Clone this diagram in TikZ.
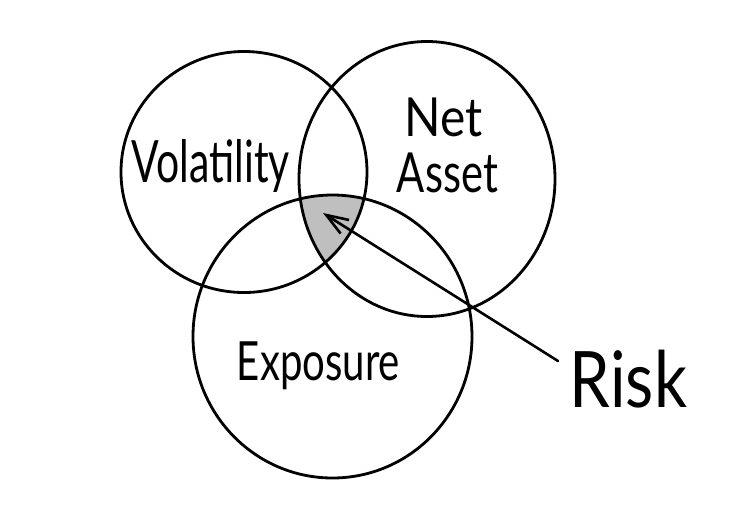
\documentclass[tikz,border=0pt]{standalone}
\usepackage{fontspec}
\setmainfont{Lato}
\usetikzlibrary{arrows.meta}
\tikzset{
  ring/.style={draw=black, line width=2.8pt},
  label/.style={inner sep=0pt, outer sep=0pt, anchor=center, text=black},
  pointer/.style={draw=black, line width=2.6pt, line cap=round,
    -{Straight Barb[length=22pt, width=16pt, line width=2.6pt]}}
}
\begin{document}
\begin{tikzpicture}[x=1pt, y=-1pt]
  \useasboundingbox (0,0) rectangle (739,520);
  \coordinate (cV) at (244,172);
  \coordinate (cN) at (427,179);
  \coordinate (cE) at (332.5,336.5);
  % shaded common region
  \begin{scope}
    \clip (cV) ellipse [x radius=123pt, y radius=120.5pt];
    \clip (cN) ellipse [x radius=128pt, y radius=137.5pt];
    \fill[gray!50] (cE) ellipse [x radius=139.5pt, y radius=141.5pt];
  \end{scope}
  % circles
  \draw[ring] (cV) ellipse [x radius=123pt, y radius=120.5pt];
  \draw[ring] (cN) ellipse [x radius=128pt, y radius=137.5pt];
  \draw[ring] (cE) ellipse [x radius=139.5pt, y radius=141.5pt];
  % labels
  \node[label] (vol) at (211,166.5) {\resizebox*{158pt}{53pt}{Volatility}};
  \node[label] (net) at (444,117.5) {\resizebox*{78pt}{39pt}{Net}};
  \node[label] (asset) at (447.5,173) {\resizebox*{101pt}{40pt}{Asset}};
  \node[label] (exp) at (318.5,366) {\resizebox*{163pt}{48pt}{Exposure}};
  \node[label] (risk) at (628.5,379) {\resizebox*{117pt}{58pt}{Risk}};
  % arrow
  \coordinate (tail) at (558,361);
  \coordinate (tip) at (323,213);
  \draw[pointer] (tail) -- (tip);
\end{tikzpicture}
\end{document}
